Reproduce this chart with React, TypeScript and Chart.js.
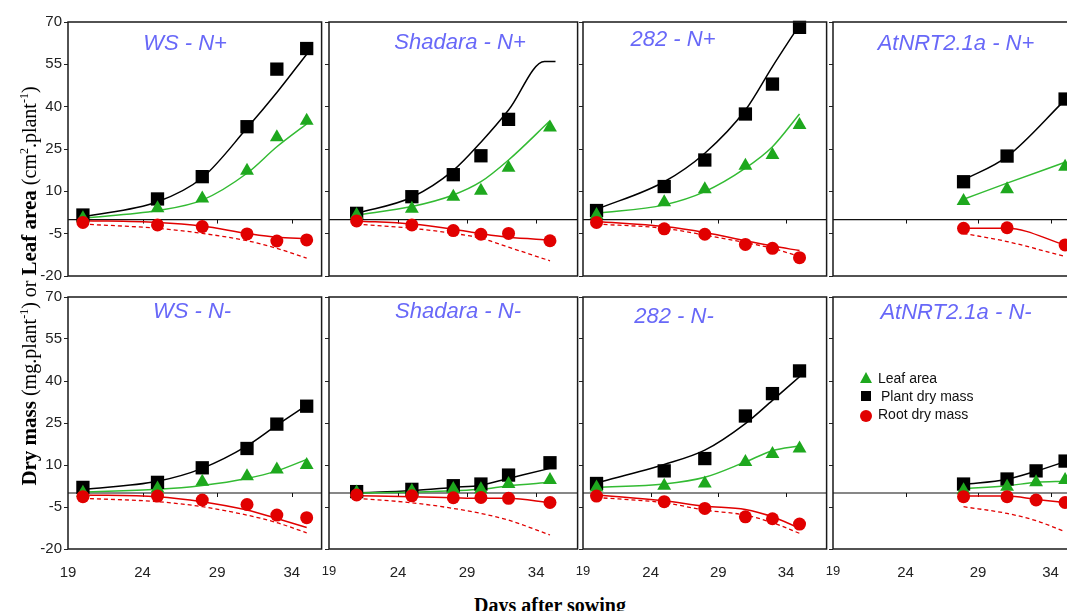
import React, { useEffect, useRef } from "react";
import { Chart, registerables } from "chart.js";

Chart.register(...registerables);

// ---------- tick labels ----------
const xTickValues = [19, 24, 29, 34];
const yTickValues = [-20, -5, 10, 25, 40, 55, 70];
const legendLabels = ["Leaf area", "Plant dry mass", "Root dry mass"];

// ---------- WS - N+ ----------
const wsNpDays = [20, 25, 28, 31, 33, 35];
const wsNpLeaf = [0.5, 4.0, 7.5, 17.3, 29.2, 35.0];
const wsNpPlant = [1.6, 7.3, 15.2, 32.9, 53.3, 60.6];
const wsNpRoot = [-1.0, -1.9, -2.5, -5.1, -7.6, -7.2];
const wsNpLeafFit = [0.5, 3.2, 6.9, 16.4, 25.8, 33.9];
const wsNpPlantFit = [1.0, 6.3, 14.8, 32.4, 45.0, 58.6];
const wsNpRootFit = [-0.4, -1.0, -2.3, -4.9, -6.3, -6.8];
const wsNpRootDash = [-1.6, -3.1, -4.9, -7.5, -10.2, -13.7];

// ---------- Shadara - N+ ----------
const shNpDays = [21, 25, 28, 30, 32, 35];
const shNpLeaf = [1.6, 3.8, 8.1, 10.2, 18.4, 32.6];
const shNpPlant = [2.2, 8.1, 15.9, 22.6, 35.5, null];
const shNpRoot = [-0.5, -1.9, -3.9, -5.2, -4.9, -7.5];
const shNpPlantFitDays = [21, 25, 28, 30, 32, 34.6, 35.4];
const shNpPlantFit = [2.2, 7.9, 17.4, 27.4, 38.8, 56.0, 56.0];
const shNpLeafFit = [1.6, 4.6, 8.7, 13.4, 21.1, 35.0];
const shNpRootFit = [-0.5, -1.6, -3.4, -5.0, -6.3, -7.2];
const shNpRootDash = [-1.6, -3.1, -4.9, -6.6, -9.8, -14.6];

// ---------- 282 - N+ ----------
const c282NpDays = [20, 25, 28, 31, 33, 35];
const c282NpLeaf = [1.6, 6.1, 10.7, 19.1, 22.9, 33.5];
const c282NpPlant = [3.2, 11.7, 21.1, 37.4, 48.0, 68.1];
const c282NpRoot = [-1.0, -3.3, -5.2, -8.8, -10.2, -13.5];
const c282NpLeafFit = [2.2, 5.2, 9.9, 18.2, 25.8, 37.4];
const c282NpPlantFit = [3.6, 13.4, 23.5, 38.8, 54.2, 69.0];
const c282NpRootFit = [-0.7, -2.5, -4.6, -7.5, -9.4, -11.0];
const c282NpRootDash = [-1.6, -3.1, -5.5, -8.2, -10.2, -13.1];

// ---------- AtNRT2.1a - N+ ----------
const atNpDays = [28, 31, 35];
const atNpLeaf = [6.6, 10.7, 18.7];
const atNpPlant = [13.4, 22.5, 42.7];
const atNpRoot = [-3.1, -2.9, -9.0];
const atNpLeafFit = [7.2, 12.9, 20.3];
const atNpPlantFit = [14.0, 22.3, 42.4];
const atNpRootFit = [-3.1, -3.1, -9.0];
const atNpRootDash = [-4.9, -7.8, -13.1];

// ---------- WS - N- ----------
const wsNmDays = [20, 25, 28, 31, 33, 35];
const wsNmLeaf = [0.1, 1.6, 4.0, 6.0, 8.4, 10.0];
const wsNmPlant = [2.0, 3.8, 9.0, 15.9, 24.6, 31.0];
const wsNmRoot = [-1.3, -1.1, -2.5, -4.1, -7.9, -8.8];
const wsNmLeafFit = [0.4, 1.3, 2.7, 5.2, 7.9, 12.0];
const wsNmPlantFit = [1.3, 4.2, 8.8, 16.8, 24.2, 31.4];
const wsNmRootFit = [-0.7, -1.3, -3.1, -6.1, -9.1, -12.3];
const wsNmRootDash = [-1.9, -3.1, -4.9, -7.9, -10.6, -14.2];

// ---------- Shadara - N- ----------
const shNmDays = [21, 25, 28, 30, 32, 35];
const shNmLeaf = [0.2, 0.7, 1.4, 1.3, 3.2, 4.6];
const shNmPlant = [0.5, 1.3, 2.6, 3.2, 6.4, 10.8];
const shNmRoot = [-0.7, -1.0, -1.7, -1.6, -1.9, -3.4];
const shNmLeafFit = [0.0, 0.3, 0.8, 1.3, 2.6, 3.8];
const shNmPlantFit = [0.1, 0.8, 2.0, 2.8, 5.2, 8.8];
const shNmRootFit = [-1.0, -1.3, -1.7, -1.9, -1.9, -3.5];
const shNmRootDash = [-1.9, -3.5, -5.5, -7.3, -9.7, -15.0];

// ---------- 282 - N- ----------
const c282NmDays = [20, 25, 28, 31, 33, 35];
const c282NmLeaf = [2.0, 2.6, 3.4, 11.1, 13.9, 15.9];
const c282NmPlant = [3.4, 7.9, 12.3, 27.5, 35.5, 43.6];
const c282NmRoot = [-1.1, -3.1, -5.5, -8.5, -9.2, -11.1];
const c282NmLeafFit = [2.0, 3.2, 5.6, 11.1, 15.1, 16.8];
const c282NmPlantFit = [3.6, 10.2, 15.3, 24.8, 33.1, 41.5];
const c282NmRootFit = [-0.7, -2.8, -4.7, -5.9, -8.5, -12.6];
const c282NmRootDash = [-1.6, -3.5, -6.1, -7.9, -10.6, -14.4];

// ---------- AtNRT2.1a - N- ----------
const atNmDays = [28, 31, 33, 35];
const atNmLeaf = [1.0, 2.2, 3.8, 4.6];
const atNmPlant = [3.2, 5.0, 7.9, 11.4];
const atNmRoot = [-1.3, -1.3, -2.5, -3.4];
const atNmLeafFit = [1.6, 2.6, 3.8, 4.2];
const atNmPlantFit = [3.0, 4.9, 7.8, 11.2];
const atNmRootFit = [-1.1, -1.1, -2.3, -3.4];
const atNmRootDash = [-4.9, -7.3, -9.9, -13.8];

type Spec = {
  title: string;
  left: number;
  top: number;
  w: number;
  h: number;
  xMax: number;
  days: number[];
  leaf: (number | null)[];
  plant: (number | null)[];
  root: (number | null)[];
  leafFit: number[];
  plantFitDays?: number[];
  plantFit: number[];
  rootFit: number[];
  rootDash: number[];
  yLabels: boolean;
  xLabels: boolean;
  smallFirst: boolean;
  tdx: number;
  tdy: number;
};

const ROW1 = 22;
const ROW2 = 297;
const H1 = 254;
const H2 = 252;

const specs: Spec[] = [
  { title: "WS - N+", left: 68, top: ROW1, w: 255, h: H1, xMax: 36, days: wsNpDays, leaf: wsNpLeaf, plant: wsNpPlant, root: wsNpRoot, leafFit: wsNpLeafFit, plantFit: wsNpPlantFit, rootFit: wsNpRootFit, rootDash: wsNpRootDash, yLabels: true, xLabels: false, smallFirst: false, tdx: 117, tdy: 22 },
  { title: "Shadara - N+", left: 329, top: ROW1, w: 250, h: H1, xMax: 37, days: shNpDays, leaf: shNpLeaf, plant: shNpPlant, root: shNpRoot, leafFit: shNpLeafFit, plantFitDays: shNpPlantFitDays, plantFit: shNpPlantFit, rootFit: shNpRootFit, rootDash: shNpRootDash, yLabels: false, xLabels: false, smallFirst: true, tdx: 131, tdy: 21 },
  { title: "282 - N+", left: 583, top: ROW1, w: 245, h: H1, xMax: 37, days: c282NpDays, leaf: c282NpLeaf, plant: c282NpPlant, root: c282NpRoot, leafFit: c282NpLeafFit, plantFit: c282NpPlantFit, rootFit: c282NpRootFit, rootDash: c282NpRootDash, yLabels: false, xLabels: false, smallFirst: true, tdx: 90, tdy: 18 },
  { title: "AtNRT2.1a - N+", left: 833, top: ROW1, w: 248, h: H1, xMax: 36, days: atNpDays, leaf: atNpLeaf, plant: atNpPlant, root: atNpRoot, leafFit: atNpLeafFit, plantFit: atNpPlantFit, rootFit: atNpRootFit, rootDash: atNpRootDash, yLabels: false, xLabels: false, smallFirst: true, tdx: 123, tdy: 22 },
  { title: "WS - N-", left: 68, top: ROW2, w: 255, h: H2, xMax: 36, days: wsNmDays, leaf: wsNmLeaf, plant: wsNmPlant, root: wsNmRoot, leafFit: wsNmLeafFit, plantFit: wsNmPlantFit, rootFit: wsNmRootFit, rootDash: wsNmRootDash, yLabels: true, xLabels: true, smallFirst: false, tdx: 124, tdy: 15 },
  { title: "Shadara - N-", left: 329, top: ROW2, w: 250, h: H2, xMax: 37, days: shNmDays, leaf: shNmLeaf, plant: shNmPlant, root: shNmRoot, leafFit: shNmLeafFit, plantFit: shNmPlantFit, rootFit: shNmRootFit, rootDash: shNmRootDash, yLabels: false, xLabels: true, smallFirst: true, tdx: 129, tdy: 15 },
  { title: "282 - N-", left: 583, top: ROW2, w: 245, h: H2, xMax: 37, days: c282NmDays, leaf: c282NmLeaf, plant: c282NmPlant, root: c282NmRoot, leafFit: c282NmLeafFit, plantFit: c282NmPlantFit, rootFit: c282NmRootFit, rootDash: c282NmRootDash, yLabels: false, xLabels: true, smallFirst: true, tdx: 91, tdy: 20 },
  { title: "AtNRT2.1a - N-", left: 833, top: ROW2, w: 248, h: H2, xMax: 36, days: atNmDays, leaf: atNmLeaf, plant: atNmPlant, root: atNmRoot, leafFit: atNmLeafFit, plantFit: atNmPlantFit, rootFit: atNmRootFit, rootDash: atNmRootDash, yLabels: false, xLabels: true, smallFirst: true, tdx: 123, tdy: 16 },
];

const GREEN = "#1ea81e";
const GREEN_LINE = "#33bb33";
const RED = "#e10000";
const TITLE_BLUE = "#6868f8";

const PAD_L = 60;
const PAD_T = 12;
const PAD_R = 8;
const PAD_B = 40;

const pts = (days: number[], vals: (number | null)[]) =>
  days.map((d, i) => ({ x: d, y: vals[i] }));

const framePlugin = {
  id: "panelFrame",
  beforeDatasetsDraw(chart: any, _args: any, opts: any) {
    const { ctx, chartArea } = chart;
    const xs = chart.scales.x;
    const ys = chart.scales.y;
    const y0 = ys.getPixelForValue(0);
    ctx.save();
    // title
    ctx.font = 'italic 22px "Liberation Sans", Arial, sans-serif';
    ctx.fillStyle = TITLE_BLUE;
    ctx.textAlign = "center";
    ctx.textBaseline = "middle";
    ctx.fillText(opts.title, chartArea.left + opts.dx, chartArea.top + opts.dy);
    // zero line
    ctx.strokeStyle = "#111";
    ctx.lineWidth = 1.2;
    ctx.beginPath();
    ctx.moveTo(chartArea.left, y0);
    ctx.lineTo(chartArea.right, y0);
    ctx.stroke();
    // tick marks on the zero line
    ctx.lineWidth = 1;
    xs.ticks.forEach((t: any, i: number) => {
      if (i === 0) return;
      const x = Math.round(xs.getPixelForValue(t.value)) + 0.5;
      ctx.beginPath();
      ctx.moveTo(x, y0);
      ctx.lineTo(x, y0 + 4);
      ctx.stroke();
    });
    ctx.restore();
  },
  afterDraw(chart: any) {
    const { ctx, chartArea } = chart;
    ctx.save();
    ctx.strokeStyle = "#1a1a1a";
    ctx.lineWidth = 1.5;
    ctx.strokeRect(chartArea.left, chartArea.top, chartArea.right - chartArea.left, chartArea.bottom - chartArea.top);
    ctx.restore();
  },
};

function Panel({ spec }: { spec: Spec }) {
  const ref = useRef<HTMLCanvasElement>(null);
  const cw = spec.w + PAD_L + PAD_R;
  const ch = spec.h + PAD_T + PAD_B;

  useEffect(() => {
    const canvas = ref.current;
    if (!canvas) return;
    const lineBase = {
      showLine: true,
      pointRadius: 0,
      pointHoverRadius: 0,
      borderWidth: 1.5,
      fill: false,
      cubicInterpolationMode: "monotone" as const,
    };
    const chart = new Chart(canvas, {
      type: "scatter",
      data: {
        datasets: [
          {
            label: legendLabels[2],
            data: pts(spec.days, spec.root),
            pointStyle: "circle",
            pointRadius: 6.5,
            backgroundColor: RED,
            borderColor: RED,
            borderWidth: 0,
            order: 0,
            clip: false,
          } as any,
          {
            label: legendLabels[0],
            data: pts(spec.days, spec.leaf),
            pointStyle: "triangle",
            pointRadius: 8,
            backgroundColor: GREEN,
            borderColor: GREEN,
            borderWidth: 0,
            order: 1,
            clip: false,
          },
          {
            label: legendLabels[1],
            data: pts(spec.days, spec.plant),
            pointStyle: "rect",
            pointRadius: 9.4,
            backgroundColor: "#000",
            borderColor: "#000",
            borderWidth: 0,
            order: 2,
            clip: false,
          },
          {
            ...lineBase,
            label: "leaf fit",
            data: pts(spec.days, spec.leafFit),
            borderColor: GREEN_LINE,
            order: 3,
          },
          {
            ...lineBase,
            label: "plant fit",
            data: pts(spec.plantFitDays || spec.days, spec.plantFit),
            borderColor: "#000",
            order: 4,
          },
          {
            ...lineBase,
            label: "root fit",
            data: pts(spec.days, spec.rootFit),
            borderColor: RED,
            order: 5,
          },
          {
            ...lineBase,
            label: "root dashed",
            data: pts(spec.days, spec.rootDash),
            borderColor: RED,
            borderWidth: 1.3,
            borderDash: [4, 3],
            order: 6,
          },
        ] as any,
      },
      options: {
        animation: false,
        responsive: false,
        layout: { padding: { left: 0, top: PAD_T, right: PAD_R, bottom: 0 } },
        plugins: {
          legend: { display: false },
          tooltip: { enabled: false },
          panelFrame: { title: spec.title, dx: spec.tdx, dy: spec.tdy },
        } as any,
        events: [],
        scales: {
          x: {
            type: "linear",
            min: 19,
            max: spec.xMax,
            afterBuildTicks: (s: any) => {
              s.ticks = xTickValues.map((v) => ({ value: v }));
            },
            afterFit: (s: any) => {
              s.height = PAD_B;
            },
            grid: { display: false, drawTicks: false },
            border: { display: false },
            ticks: {
              display: spec.xLabels,
              padding: 15,
              color: "#222",
              maxRotation: 0,
              autoSkip: false,
              font: (c: any) => ({
                family: '"Liberation Sans", Arial, sans-serif',
                size: spec.smallFirst && c.index === 0 ? 13 : 15,
              }),
            },
          },
          y: {
            type: "linear",
            min: -20,
            max: 70,
            afterBuildTicks: (s: any) => {
              s.ticks = yTickValues.map((v) => ({ value: v }));
            },
            afterFit: (s: any) => {
              s.width = PAD_L;
            },
            grid: { drawOnChartArea: false, drawTicks: true, tickLength: 4, color: "#222" },
            border: { display: false },
            ticks: {
              display: spec.yLabels,
              padding: 2,
              color: "#222",
              font: { family: '"Liberation Sans", Arial, sans-serif', size: 15 },
            },
          },
        },
      } as any,
      plugins: [framePlugin as any],
    });
    return () => chart.destroy();
  }, [spec]);

  return (
    <canvas
      ref={ref}
      width={cw}
      height={ch}
      style={{
        position: "absolute",
        left: spec.left - PAD_L,
        top: spec.top - PAD_T,
        width: cw,
        height: ch,
      }}
    />
  );
}

export default function App() {
  const serif = '"Liberation Serif", "Times New Roman", serif';
  const sans = '"Liberation Sans", Arial, sans-serif';
  const legendText: React.CSSProperties = {
    position: "absolute",
    fontFamily: sans,
    fontSize: 14,
    lineHeight: "16px",
    color: "#111",
    whiteSpace: "nowrap",
  };
  return (
    <div
      style={{
        position: "fixed",
        left: 0,
        top: 0,
        width: 1067,
        height: 611,
        overflow: "hidden",
        background: "#fff",
      }}
    >
      {specs.map((s, i) => (
        <Panel key={i} spec={s} />
      ))}

      {/* y-axis title */}
      <div
        style={{
          position: "absolute",
          left: 24 - 225,
          top: 286 - 14,
          width: 450,
          height: 28,
          lineHeight: "28px",
          textAlign: "center",
          transform: "rotate(-90deg)",
          transformOrigin: "50% 50%",
          whiteSpace: "nowrap",
          fontFamily: serif,
          color: "#000",
        }}
      >
        <b style={{ fontSize: 21 }}>Dry mass</b>
        <span style={{ fontSize: 20 }}>
          {" "}(mg.plant<sup style={{ fontSize: 12 }}>-1</sup>) or{" "}
        </span>
        <b style={{ fontSize: 21 }}>Leaf area</b>
        <span style={{ fontSize: 20 }}>
          {" "}(cm<sup style={{ fontSize: 12 }}>2</sup>.plant<sup style={{ fontSize: 12 }}>-1</sup>)
        </span>
      </div>

      {/* x-axis title */}
      <div
        style={{
          position: "absolute",
          left: 400,
          top: 595,
          width: 300,
          height: 20,
          lineHeight: "20px",
          textAlign: "center",
          fontFamily: serif,
          fontWeight: "bold",
          fontSize: 20,
          color: "#000",
          whiteSpace: "nowrap",
        }}
      >
        Days after sowing
      </div>

      {/* legend */}
      <div
        style={{
          position: "absolute",
          left: 860,
          top: 372,
          width: 0,
          height: 0,
          borderLeft: "6px solid transparent",
          borderRight: "6px solid transparent",
          borderBottom: `11px solid ${GREEN}`,
        }}
      />
      <div style={{ ...legendText, left: 878, top: 370 }}>{legendLabels[0]}</div>
      <div
        style={{
          position: "absolute",
          left: 861,
          top: 391,
          width: 10,
          height: 10,
          background: "#000",
        }}
      />
      <div style={{ ...legendText, left: 881, top: 388 }}>{legendLabels[1]}</div>
      <div
        style={{
          position: "absolute",
          left: 860,
          top: 410,
          width: 12,
          height: 12,
          borderRadius: 6,
          background: RED,
        }}
      />
      <div style={{ ...legendText, left: 878, top: 406 }}>{legendLabels[2]}</div>
    </div>
  );
}
